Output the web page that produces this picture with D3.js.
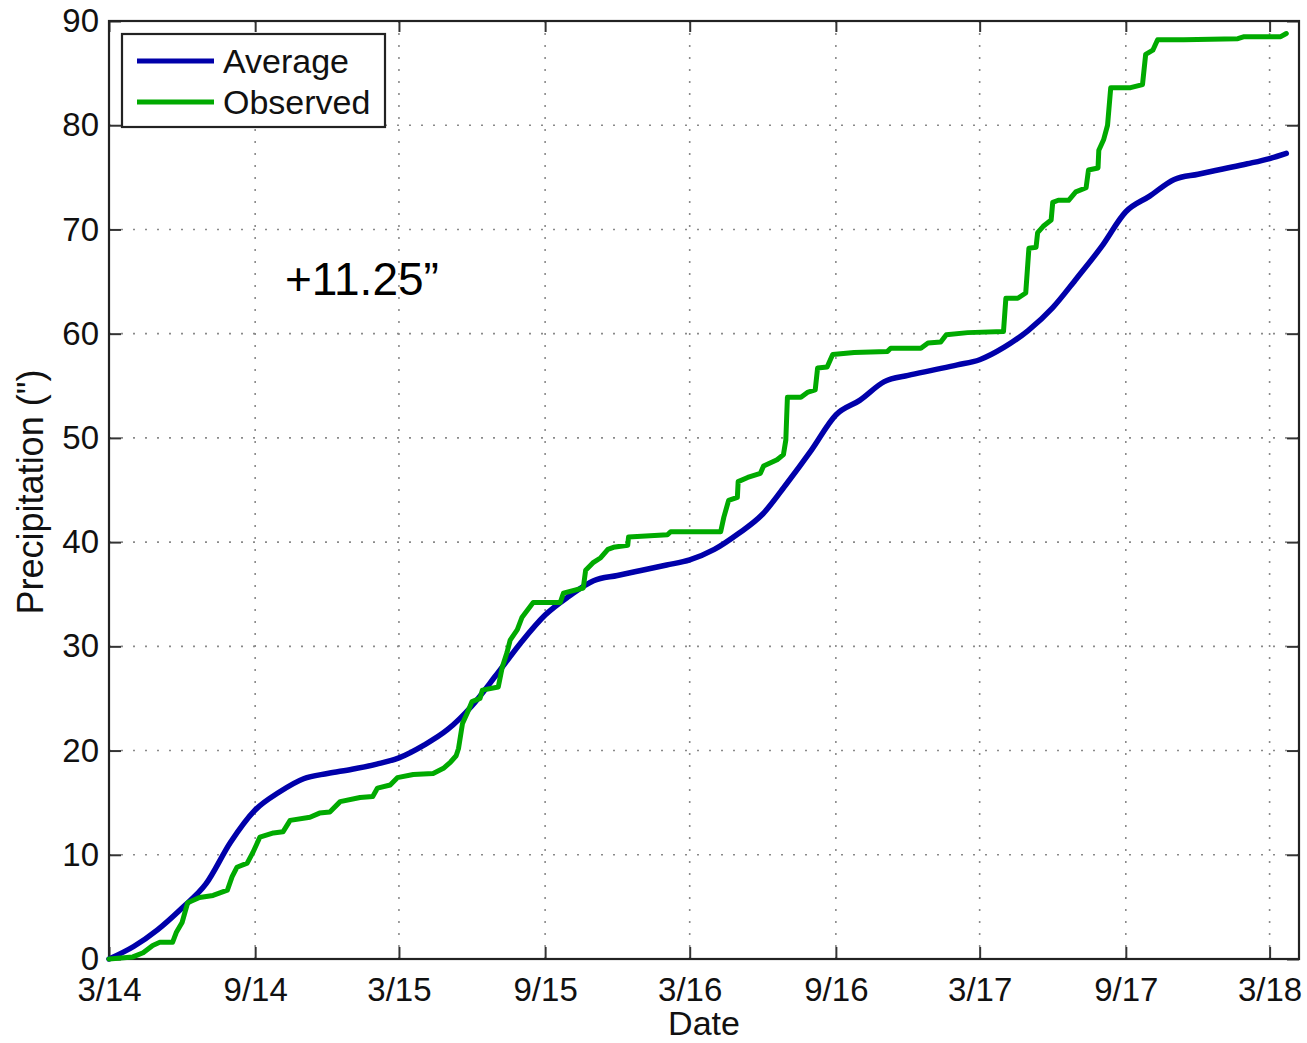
<!DOCTYPE html>
<html>
<head>
<meta charset="utf-8">
<script src="https://cdn.jsdelivr.net/npm/d3@7"></script>
<style>
  html, body { margin: 0; padding: 0; background: #fff; }
  svg { display: block; font-family: "Liberation Sans", Arial, Helvetica, sans-serif; }
</style>
</head>
<body>
<svg id="chart" width="1307" height="1043"></svg>
<script>
// ---------------- DATA ----------------
const xTickDates  = ["2014-03-01","2014-09-01","2015-03-01","2015-09-01","2016-03-01","2016-09-01","2017-03-01","2017-09-01","2018-03-01"];
const xTickLabels = ["3/14","9/14","3/15","9/15","3/16","9/16","3/17","9/17","3/18"];
const yTicks = [0,10,20,30,40,50,60,70,80,90];

const avgDates = ["2014-03-01","2014-04-01","2014-05-01","2014-06-01","2014-07-01","2014-08-01","2014-09-01","2014-10-01","2014-11-01","2014-12-01",
  "2015-01-01","2015-02-01","2015-03-01","2015-04-01","2015-05-01","2015-06-01","2015-07-01","2015-08-01","2015-09-01","2015-10-01","2015-11-01","2015-12-01",
  "2016-01-01","2016-02-01","2016-03-01","2016-04-01","2016-05-01","2016-06-01","2016-07-01","2016-08-01","2016-09-01","2016-10-01","2016-11-01","2016-12-01",
  "2017-01-01","2017-02-01","2017-03-01","2017-04-01","2017-05-01","2017-06-01","2017-07-01","2017-08-01","2017-09-01","2017-10-01","2017-11-01","2017-12-01",
  "2018-01-01","2018-02-01","2018-03-01","2018-03-22"];
const avgValues = [0,1.2,2.8,4.9,7.2,11.2,14.3,16.0,17.3,17.8,
  18.2,18.7,19.3,20.5,22.0,24.3,27.2,30.3,33.0,34.8,36.3,36.8,
  37.3,37.8,38.3,39.3,40.8,42.7,45.6,48.8,52.2,53.6,55.4,56.0,
  56.5,57.0,57.5,58.7,60.3,62.5,65.3,68.3,71.7,73.2,74.8,75.3,
  75.8,76.3,76.8,77.3];

const obsDates = ["2014-03-01","2014-03-31","2014-04-13","2014-04-25","2014-05-04","2014-05-20","2014-05-25","2014-06-01","2014-06-08","2014-06-23",
  "2014-07-10","2014-07-28","2014-08-03","2014-08-09","2014-08-22","2014-08-29","2014-09-07","2014-09-24","2014-10-06","2014-10-15",
  "2014-11-09","2014-11-21","2014-12-04","2014-12-17","2015-01-11","2015-01-27","2015-02-02","2015-02-18","2015-02-27","2015-03-19",
  "2015-04-13","2015-04-26","2015-05-05","2015-05-12","2015-05-15","2015-05-20","2015-05-26","2015-06-01","2015-06-11","2015-06-14",
  "2015-07-04","2015-07-09","2015-07-15","2015-07-19","2015-07-28","2015-08-03","2015-08-17","2015-09-20","2015-09-24","2015-10-19",
  "2015-10-22","2015-10-31","2015-11-10","2015-11-19","2015-11-26","2015-12-14","2015-12-15","2016-02-02","2016-02-06","2016-04-09",
  "2016-04-13","2016-04-19","2016-04-30","2016-05-01","2016-05-13","2016-05-29","2016-06-02","2016-06-19","2016-06-27","2016-06-30",
  "2016-07-02","2016-07-19","2016-07-28","2016-08-06","2016-08-09","2016-08-21","2016-08-28","2016-09-24","2016-11-05","2016-11-09",
  "2016-12-17","2016-12-26","2017-01-11","2017-01-18","2017-02-14","2017-03-31","2017-04-03","2017-04-18","2017-04-28","2017-05-02",
  "2017-05-11","2017-05-13","2017-05-20","2017-05-30","2017-06-01","2017-06-08","2017-06-21","2017-06-30","2017-07-13","2017-07-16",
  "2017-07-28","2017-07-29","2017-08-04","2017-08-09","2017-08-13","2017-09-07","2017-09-22","2017-09-26","2017-10-05","2017-10-11",
  "2017-11-13","2018-01-20","2018-01-28","2018-03-15","2018-03-22"];
const obsValues = [0,0.2,0.6,1.3,1.6,1.6,2.6,3.5,5.4,5.9,
  6.1,6.6,7.9,8.8,9.2,10.2,11.7,12.1,12.2,13.3,
  13.6,14.0,14.1,15.1,15.5,15.6,16.4,16.7,17.4,17.7,
  17.8,18.3,18.9,19.5,20.2,22.6,23.6,24.7,25.0,25.8,
  26.1,28.0,29.4,30.6,31.6,32.8,34.2,34.2,35.1,35.6,
  37.3,38.0,38.5,39.3,39.5,39.7,40.5,40.7,41.0,41.0,
  42.4,44.0,44.3,45.8,46.2,46.6,47.3,47.9,48.4,49.8,
  53.9,53.9,54.4,54.6,56.7,56.8,58.0,58.2,58.3,58.6,
  58.6,59.1,59.2,59.9,60.1,60.2,63.4,63.4,63.9,68.2,
  68.3,69.7,70.3,70.9,72.6,72.8,72.8,73.6,74.0,75.7,
  75.9,77.6,78.6,80.0,83.6,83.6,83.9,86.8,87.2,88.2,
  88.2,88.3,88.5,88.5,88.8];

const seriesNames = ["Average","Observed"];
const annotationText = "+11.25\u201D";

// ---------------- LAYOUT ----------------
(function () {
const svg = d3.select("#chart");
const mLeft = 109, mRight = 1299, mTop = 21, mBottom = 959;
const parse = d3.timeParse("%Y-%m-%d");

const x = d3.scaleTime()
  .domain([parse("2014-03-01"), parse("2018-04-07")])
  .range([mLeft, mRight]);
const y = d3.scaleLinear().domain([0, 90]).range([mBottom, mTop]);

const colors = { Average: "rgb(0,0,170)", Observed: "rgb(0,170,0)" };
const gridColor = "#8a8a8a";

// grid
const grid = svg.append("g");
xTickDates.forEach(d => {
  const xp = x(parse(d));
  grid.append("line").attr("x1", xp).attr("x2", xp).attr("y1", mBottom).attr("y2", mTop)
    .attr("stroke", gridColor).attr("stroke-width", 1.6).attr("stroke-dasharray", "2,10");
});
yTicks.forEach(v => {
  const yp = y(v);
  grid.append("line").attr("x1", mLeft).attr("x2", mRight).attr("y1", yp).attr("y2", yp)
    .attr("stroke", gridColor).attr("stroke-width", 1.6).attr("stroke-dasharray", "2,10");
});

// axes (D3 axes with inward ticks)
const xAxisB = d3.axisBottom(x).tickValues(xTickDates.map(parse))
  .tickFormat((d, i) => xTickLabels[i]).tickSizeInner(-12).tickSizeOuter(0).tickPadding(19);
const gx = svg.append("g").attr("transform", `translate(0,${mBottom})`).call(xAxisB);
gx.selectAll("text").attr("font-size", 33).attr("fill", "#111");

const xAxisT = d3.axisTop(x).tickValues(xTickDates.map(parse)).tickFormat("")
  .tickSizeInner(-11).tickSizeOuter(0);
svg.append("g").attr("transform", `translate(0,${mTop})`).call(xAxisT);

const yAxisL = d3.axisLeft(y).tickValues(yTicks).tickFormat(d3.format("d"))
  .tickSizeInner(-12).tickSizeOuter(0).tickPadding(10);
const gy = svg.append("g").attr("transform", `translate(${mLeft},0)`).call(yAxisL);
gy.selectAll("text").attr("font-size", 33).attr("fill", "#111");

const yAxisR = d3.axisRight(y).tickValues(yTicks).tickFormat("")
  .tickSizeInner(-12).tickSizeOuter(0);
svg.append("g").attr("transform", `translate(${mRight},0)`).call(yAxisR);

svg.selectAll(".domain").remove();
svg.selectAll(".tick line").attr("stroke", "#333").attr("stroke-width", 2);

// frame
svg.append("rect").attr("x", mLeft).attr("y", mTop).attr("width", mRight - mLeft).attr("height", mBottom - mTop)
  .attr("fill", "none").attr("stroke", "#222").attr("stroke-width", 2.2);

// lines
const avgData = avgDates.map((d, i) => ({ date: parse(d), value: avgValues[i] }));
const obsData = obsDates.map((d, i) => ({ date: parse(d), value: obsValues[i] }));

const lineSmooth = d3.line().x(d => x(d.date)).y(d => y(d.value)).curve(d3.curveMonotoneX);
const lineStep = d3.line().x(d => x(d.date)).y(d => y(d.value));

svg.append("path").datum(avgData).attr("d", lineSmooth)
  .attr("fill", "none").attr("stroke", colors.Average).attr("stroke-width", 5.5)
  .attr("stroke-linejoin", "round").attr("stroke-linecap", "round");
svg.append("path").datum(obsData).attr("d", lineStep)
  .attr("fill", "none").attr("stroke", colors.Observed).attr("stroke-width", 5)
  .attr("stroke-linejoin", "round").attr("stroke-linecap", "round");

// legend
const lg = svg.append("g");
lg.append("rect").attr("x", 122).attr("y", 34).attr("width", 263).attr("height", 93)
  .attr("fill", "#fff").attr("stroke", "#222").attr("stroke-width", 2.2);
seriesNames.forEach((name, i) => {
  const yy = 61 + i * 41;
  lg.append("line").attr("x1", 137).attr("x2", 214).attr("y1", yy).attr("y2", yy)
    .attr("stroke", colors[name]).attr("stroke-width", 5);
  lg.append("text").attr("x", 223).attr("y", yy + 11.5).attr("font-size", 34).attr("fill", "#111").text(name);
});

// annotation
svg.append("text").attr("x", 285).attr("y", 295).attr("font-size", 46).attr("fill", "#000").text(annotationText);

// axis labels
svg.append("text").attr("x", 704).attr("y", 1035).attr("text-anchor", "middle")
  .attr("font-size", 34).attr("fill", "#111").text("Date");
svg.append("text").attr("transform", "translate(43,492) rotate(-90)").attr("text-anchor", "middle")
  .attr("font-size", 36).attr("fill", "#111").text("Precipitation (\")");
})();
</script>
</body>
</html>
